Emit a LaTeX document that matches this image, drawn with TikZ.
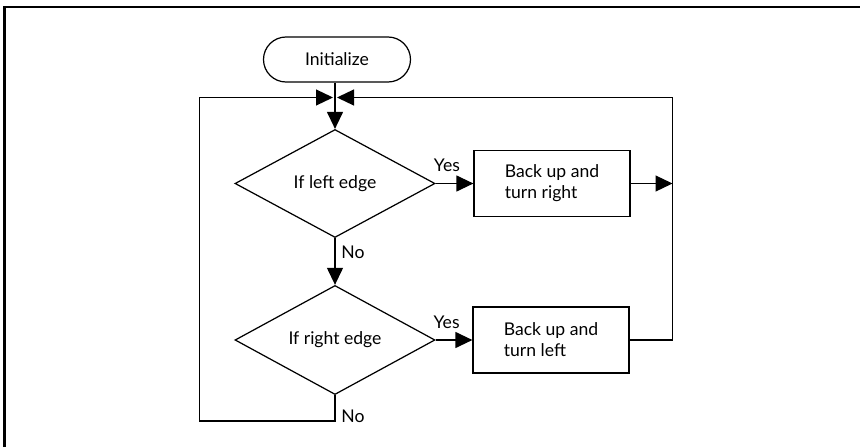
\documentclass[tikz,border=0pt]{standalone}
\usepackage{fontspec}
\setmainfont{Lato}
\usetikzlibrary{arrows.meta,positioning,shapes.geometric}

\begin{document}
\begin{tikzpicture}[
  line width=0.7pt,
  font=\fontsize{10}{12}\selectfont,
  terminal/.style={draw, rounded corners=0.45cm, minimum width=2.94cm, minimum height=0.9cm},
  decision/.style={draw, diamond, inner sep=0pt, minimum width=4cm, minimum height=2.16cm},
  action/.style={draw, minimum width=3.12cm, minimum height=1.32cm, align=left},
  arrow/.style={-{Triangle[length=3.4mm, width=3.2mm]}},
  tag/.style={font=\fontsize{10}{12}\selectfont},
]
\useasboundingbox (0,0) rectangle (17.2,8.94);
\draw[line width=1.4pt] (0.09,0) -- (0.09,8.8) -- (17.2,8.8);

\node[terminal] (init) at (6.74,7.75) {Initialize};
\node[decision] (ifleft) at (6.7,5.27) {If left edge};
\node[decision] (ifright) at (6.7,2.14) {If right edge};
\node[action] (turnright) at (11.04,5.27) {Back up and\\turn right};
\node[action] (turnleft) at (11.02,2.14) {Back up and\\turn left};

\coordinate (joinL) at (6.66,6.99);
\coordinate (joinR) at (6.74,6.99);
\coordinate (rtop) at (13.45,6.99);
\coordinate (lbot) at (3.99,0.52);

\draw[arrow] (init.south -| ifleft.north) -- (ifleft.north);
\draw[arrow] (ifleft) -- (turnright) node[tag, pos=0.3, above=1mm] {Yes};
\draw[arrow] (ifleft) -- (ifright) node[tag, pos=0.3, right] {No};
\draw[arrow] (ifright) -- (turnleft) node[tag, pos=0.3, above=1mm] {Yes};
\draw[arrow] (turnright) -- (turnright -| rtop);
\draw[arrow] (turnleft) -| (rtop) -- (joinR);
\draw[arrow] (ifright.south) |- (lbot) node[tag, pos=0.4, right] {No} |- (joinL);

\end{tikzpicture}
\end{document}
